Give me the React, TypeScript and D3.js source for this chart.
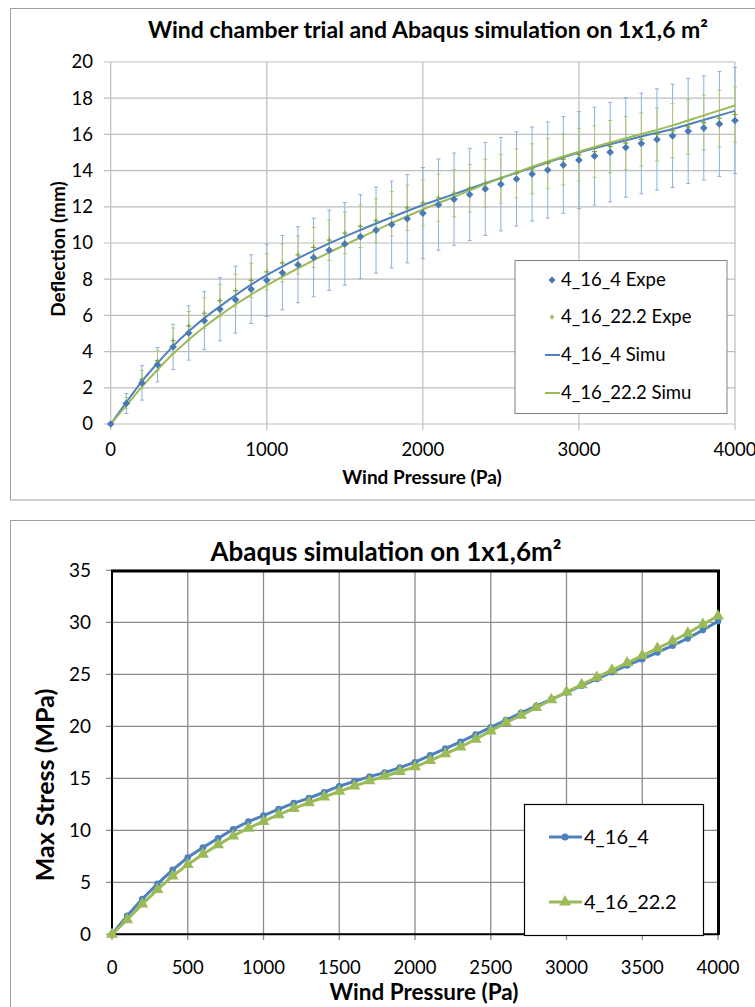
import React from "react";
import * as d3 from "d3";

// ---------- Top chart data ----------
const pressure = [0,100,200,300,400,500,600,700,800,900,1000,1100,1200,1300,1400,1500,1600,1700,1800,1900,2000,2100,2200,2300,2400,2500,2600,2700,2800,2900,3000,3100,3200,3300,3400,3500,3600,3700,3800,3900,4000];
const expe4 = [0,1.13,2.27,3.28,4.26,5.03,5.71,6.34,6.87,7.45,7.94,8.36,8.8,9.2,9.6,9.95,10.35,10.71,11.02,11.34,11.65,12.12,12.42,12.68,12.99,13.25,13.54,13.81,14.03,14.31,14.58,14.8,15.02,15.28,15.5,15.72,15.92,16.18,16.36,16.58,16.77];
const expe4Err = [0,0.55,0.95,0.95,1.25,1.5,1.6,1.75,1.85,1.9,2.0,2.05,2.1,2.17,2.22,2.28,2.32,2.38,2.4,2.44,2.52,2.52,2.55,2.55,2.57,2.58,2.6,2.6,2.65,2.67,2.68,2.7,2.75,2.75,2.78,2.8,2.85,2.9,2.88,2.9,2.93];
const expe22 = [0,1.17,2.45,3.5,4.6,5.42,6.12,6.82,7.37,7.93,8.41,8.9,9.34,9.76,10.16,10.55,10.92,11.24,11.62,11.94,12.22,12.5,12.75,13.03,13.3,13.55,13.85,14.1,14.4,14.62,14.88,15.05,15.32,15.52,15.72,16.0,16.2,16.42,16.65,16.88,17.1];
const expe22Err = [0,0.3,0.5,0.55,0.7,0.8,0.85,0.9,0.9,0.95,1.0,1.05,1.05,1.1,1.12,1.15,1.17,1.2,1.22,1.25,1.27,1.3,1.3,1.31,1.33,1.35,1.35,1.38,1.38,1.42,1.45,1.42,1.45,1.47,1.47,1.47,1.5,1.51,1.52,1.56,1.53];
const simuX = [0,100,200,300,400,500,600,700,800,900,1000,1200,1400,1600,1800,2000,2200,2400,2600,2800,3000,3200,3400,3600,3800,4000];
const simu4 = [0,1.2,2.36,3.36,4.3,5.12,5.85,6.5,7.12,7.7,8.22,9.15,9.98,10.72,11.42,12.1,12.7,13.3,13.88,14.45,15.0,15.45,15.88,16.3,16.8,17.3];
const simu22 = [0,1.02,2.05,3.0,3.88,4.66,5.36,6.0,6.6,7.15,7.66,8.6,9.48,10.3,11.1,11.85,12.55,13.25,13.9,14.5,15.04,15.55,16.02,16.5,17.05,17.6];
const topXTicks = [0,1000,2000,3000,4000];
const topYTicks = [0,2,4,6,8,10,12,14,16,18,20];
const topLegend = ["4_16_4 Expe","4_16_22.2 Expe","4_16_4 Simu","4_16_22.2 Simu"];

// ---------- Bottom chart data ----------
const stress4 = [0,1.78,3.4,4.85,6.2,7.38,8.35,9.22,10.1,10.84,11.42,12.04,12.62,13.1,13.66,14.24,14.71,15.16,15.55,16.03,16.55,17.2,17.85,18.5,19.2,19.9,20.6,21.3,21.95,22.6,23.25,23.9,24.55,25.2,25.85,26.45,27.1,27.75,28.45,29.25,30.1];
const stress22 = [0,1.4,2.9,4.3,5.6,6.7,7.7,8.6,9.45,10.2,10.85,11.5,12.1,12.65,13.2,13.75,14.25,14.75,15.2,15.65,16.1,16.7,17.35,18.0,18.75,19.55,20.35,21.05,21.8,22.55,23.3,24.0,24.7,25.4,26.1,26.8,27.5,28.2,28.95,29.8,30.6];
const botXTicks = [0,500,1000,1500,2000,2500,3000,3500,4000];
const botYTicks = [0,5,10,15,20,25,30,35];
const botLegend = ["4_16_4","4_16_22.2"];

const BLUE = "#4F81BD";
const BLUE_PT = "#4A7AB5";
const BLUE_ERR = "#8EB0DA";
const GREEN = "#9BBB59";
const GREEN_ERR = "#AFC97A";
const FONT = "Lato, 'Open Sans', sans-serif";

export default function App() {
  // top scales
  const xT = d3.scaleLinear().domain([0, 4000]).range([110.7, 735]);
  const yT = d3.scaleLinear().domain([0, 20]).range([424, 62]);
  // bottom scales
  const xB = d3.scaleLinear().domain([0, 4000]).range([112, 718]);
  const yB = d3.scaleLinear().domain([0, 35]).range([934.3, 570.3]);

  const simuLine = d3.line<number>().x((_, i) => xT(simuX[i])).y(d => yT(d)).curve(d3.curveMonotoneX);
  const bLine4 = d3.line<number>().x((_, i) => xB(pressure[i])).y(d => yB(d));

  const diamond = (cx: number, cy: number, r: number) => `M${cx},${cy - r}L${cx + r},${cy}L${cx},${cy + r}L${cx - r},${cy}Z`;
  const tri = d3.symbol(d3.symbolTriangle, 62);

  return (
    <svg width={755} height={1007} style={{ position: "absolute", left: 0, top: 0, background: "#fff" }} fontFamily={FONT}>
      <rect x={0} y={0} width={755} height={1007} fill="#fff" />
      {/* ===== TOP CHART ===== */}
      <rect x={10.5} y={8.5} width={760} height={491.5} fill="#fff" stroke="#A0A0A0" strokeWidth={1} />
      <text x={428} y={38} textAnchor="middle" fontSize={23} fontWeight="bold" fill="#000">
        Wind chamber trial and Abaqus simulation on 1x1,6 m²
      </text>
      {/* gridlines */}
      {topYTicks.map(t => (
        <line key={"tyg" + t} x1={104} x2={735} y1={yT(t)} y2={yT(t)} stroke="#BEBEBE" strokeWidth={1.2} />
      ))}
      {topXTicks.map(t => (
        <line key={"txg" + t} x1={xT(t)} x2={xT(t)} y1={62} y2={430} stroke="#BEBEBE" strokeWidth={1.2} />
      ))}
      {topYTicks.map(t => (
        <text key={"tyl" + t} x={93} y={yT(t)} dy="0.35em" textAnchor="end" fontSize={18.5} fill="#000">{t}</text>
      ))}
      {topXTicks.map(t => (
        <text key={"txl" + t} x={xT(t)} y={456} textAnchor="middle" fontSize={18.5} fill="#000">{t}</text>
      ))}
      <text x={422} y={484} textAnchor="middle" fontSize={19} fontWeight="bold">Wind Pressure (Pa)</text>
      <text transform="translate(64.5,249) rotate(-90)" textAnchor="middle" fontSize={19} fontWeight="bold">Deflection (mm)</text>

      {/* error bars blue */}
      {pressure.map((p, i) => expe4Err[i] > 0 && (
        <g key={"eb" + i} stroke={BLUE_ERR} strokeWidth={1}>
          <line x1={xT(p)} x2={xT(p)} y1={yT(expe4[i] + expe4Err[i])} y2={yT(expe4[i] - expe4Err[i])} />
          <line x1={xT(p) - 2} x2={xT(p) + 2} y1={yT(expe4[i] + expe4Err[i])} y2={yT(expe4[i] + expe4Err[i])} />
          <line x1={xT(p) - 2} x2={xT(p) + 2} y1={yT(expe4[i] - expe4Err[i])} y2={yT(expe4[i] - expe4Err[i])} />
        </g>
      ))}
      {/* error bars green */}
      {pressure.map((p, i) => expe22Err[i] > 0 && (
        <g key={"eg" + i} stroke={GREEN_ERR} strokeWidth={1}>
          <line x1={xT(p)} x2={xT(p)} y1={yT(expe22[i] + expe22Err[i])} y2={yT(expe22[i] - expe22Err[i])} />
          <line x1={xT(p) - 2} x2={xT(p) + 2} y1={yT(expe22[i] + expe22Err[i])} y2={yT(expe22[i] + expe22Err[i])} />
          <line x1={xT(p) - 2} x2={xT(p) + 2} y1={yT(expe22[i] - expe22Err[i])} y2={yT(expe22[i] - expe22Err[i])} />
        </g>
      ))}
      {/* simulation lines */}
      <path d={simuLine(simu4) || ""} fill="none" stroke={BLUE} strokeWidth={2} />
      <path d={simuLine(simu22) || ""} fill="none" stroke={GREEN} strokeWidth={2} />
      {/* green plus markers */}
      {pressure.map((p, i) => (
        <path key={"gp" + i} d={`M${xT(p) - 2.5},${yT(expe22[i])}H${xT(p) + 2.5}M${xT(p)},${yT(expe22[i]) - 2.5}V${yT(expe22[i]) + 2.5}`} stroke="#7FA33A" strokeWidth={1.2} />
      ))}
      {/* blue diamonds */}
      {pressure.map((p, i) => (
        <path key={"bd" + i} d={diamond(xT(p), yT(expe4[i]), 3.8)} fill={BLUE_PT} />
      ))}
      {/* top legend */}
      <rect x={515} y={260.5} width={212} height={153} fill="#fff" stroke="#808080" strokeWidth={1} />
      {topLegend.map((name, i) => {
        const ly = [280, 317, 355, 393][i];
        return (
          <g key={"tl" + i}>
            {i === 0 && <path d={diamond(552, ly, 3.5)} fill={BLUE_PT} />}
            {i === 1 && <path d={`M549.5,${ly}H554.5M552,${ly - 2.5}V${ly + 2.5}`} stroke="#7FA33A" strokeWidth={1.2} />}
            {i === 2 && <line x1={545} x2={560} y1={ly} y2={ly} stroke={BLUE} strokeWidth={2} />}
            {i === 3 && <line x1={545} x2={560} y1={ly} y2={ly} stroke={GREEN} strokeWidth={2} />}
            <text x={561} y={ly} dy="0.35em" fontSize={18.5} fill="#000">{name}</text>
          </g>
        );
      })}

      {/* ===== BOTTOM CHART ===== */}
      <rect x={10.5} y={520.5} width={760} height={500} fill="#fff" stroke="#A0A0A0" strokeWidth={1} />
      <text x={386} y={561} textAnchor="middle" fontSize={26} fontWeight="bold" fill="#000">Abaqus simulation on 1x1,6m²</text>
      {botYTicks.map(t => (
        <line key={"byg" + t} x1={106} x2={718} y1={yB(t)} y2={yB(t)} stroke="#8C8C8C" strokeWidth={1.3} />
      ))}
      {botXTicks.map(t => (
        <line key={"bxg" + t} x1={xB(t)} x2={xB(t)} y1={570.3} y2={940} stroke="#8C8C8C" strokeWidth={1.3} />
      ))}
      {/* plot border */}
      <line x1={112} x2={112} y1={570} y2={935} stroke="#000" strokeWidth={2} />
      <line x1={111} x2={719} y1={934.3} y2={934.3} stroke="#000" strokeWidth={2} />
      <line x1={111} x2={720} y1={571} y2={571} stroke="#000" strokeWidth={3} />
      <line x1={718.5} x2={718.5} y1={570} y2={935} stroke="#000" strokeWidth={3} />
      {botYTicks.map(t => (
        <text key={"byl" + t} x={91} y={yB(t)} dy="0.35em" textAnchor="end" fontSize={19} fill="#000">{t}</text>
      ))}
      {botXTicks.map(t => (
        <text key={"bxl" + t} x={xB(t)} y={974} textAnchor="middle" fontSize={18.5} fill="#000">{t}</text>
      ))}
      <text x={424} y={1000} textAnchor="middle" fontSize={22.5} fontWeight="bold">Wind Pressure (Pa)</text>
      <text transform="translate(54,785) rotate(-90)" textAnchor="middle" fontSize={25} fontWeight="bold">Max Stress (MPa)</text>

      <path d={bLine4(stress4) || ""} fill="none" stroke={BLUE} strokeWidth={3} />
      {pressure.map((p, i) => (
        <circle key={"bc" + i} cx={xB(p)} cy={yB(stress4[i])} r={3.3} fill={BLUE} />
      ))}
      <path d={bLine4(stress22) || ""} fill="none" stroke={GREEN} strokeWidth={3} />
      {pressure.map((p, i) => (
        <path key={"bt" + i} transform={`translate(${xB(p)},${yB(stress22[i])})`} d={tri() || ""} fill={GREEN} />
      ))}
      {/* bottom legend */}
      <rect x={524.5} y={804.5} width={179} height={131} fill="#fff" stroke="#000" strokeWidth={1.2} />
      {botLegend.map((name, i) => {
        const ly = [837, 902][i];
        return (
          <g key={"bl" + i}>
            <line x1={549} x2={582} y1={ly} y2={ly} stroke={i === 0 ? BLUE : GREEN} strokeWidth={3} />
            {i === 0 ? <circle cx={565} cy={ly} r={3.5} fill={BLUE} /> : <path transform={`translate(565,${ly})`} d={tri() || ""} fill={GREEN} />}
            <text x={584} y={ly} dy="0.35em" fontSize={20} fill="#000">{name}</text>
          </g>
        );
      })}
    </svg>
  );
}
